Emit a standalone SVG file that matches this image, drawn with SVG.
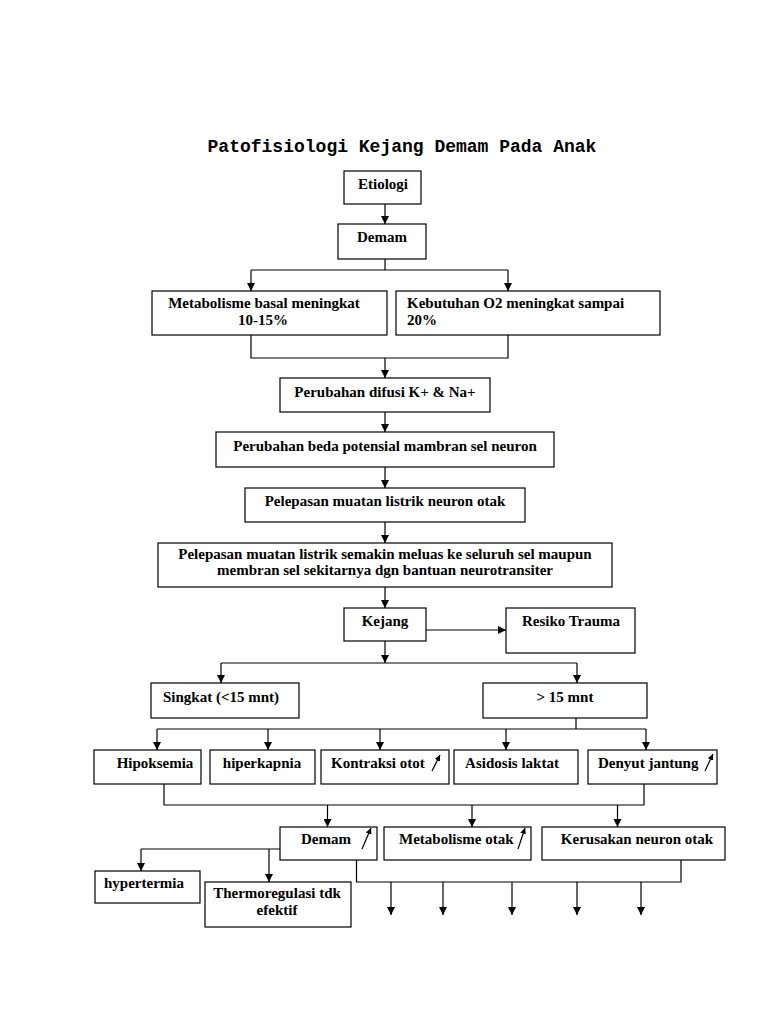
<svg xmlns="http://www.w3.org/2000/svg" width="768" height="1024" viewBox="0 0 768 1024">
<defs>
<marker id="ah" markerWidth="8" markerHeight="8" refX="8" refY="4" orient="auto" markerUnits="userSpaceOnUse"><path d="M0,0 L8,4 L0,8 z" fill="#000"/></marker>
<marker id="sa" markerWidth="6" markerHeight="6" refX="6" refY="3" orient="auto" markerUnits="userSpaceOnUse"><path d="M0,0 L6,3 L0,6 z" fill="#000"/></marker>
<style>
rect{fill:#fff;stroke:#000;stroke-width:1.2}
text{font-family:"Liberation Serif","Times New Roman",serif;font-weight:bold;font-size:15px;fill:#000}
.c{text-anchor:middle}
.t{font-family:"Liberation Mono","Courier New",monospace;font-size:18px}
#conn path{fill:none;stroke:#000;stroke-width:1.2}
.ar{marker-end:url(#ah)}
.up{fill:none;stroke:#000;stroke-width:1.2;marker-end:url(#sa)}
</style>
</defs>
<rect x="0" y="0" width="768" height="1024" style="fill:#fff;stroke:none"/>
<text class="t c" x="402" y="152">Patofisiologi Kejang Demam Pada Anak</text>

<g id="conn">
<path class="ar" d="M385,204 V224"/>
<path d="M385,259 V270 M251,270 H508"/>
<path class="ar" d="M251,270 V291"/>
<path class="ar" d="M508,270 V291"/>
<path d="M251,335 V358 H508 V335"/>
<path class="ar" d="M385,358 V378"/>
<path class="ar" d="M385,412 V432"/>
<path class="ar" d="M385,467 V488"/>
<path class="ar" d="M385,522 V543"/>
<path class="ar" d="M385,587 V608"/>
<path class="ar" d="M426,630 H506"/>
<path class="ar" d="M385,641 V663"/>
<path d="M221,663 H577"/>
<path class="ar" d="M221,663 V683"/>
<path class="ar" d="M577,663 V683"/>
<path d="M576,718 V729 M157,729 H646"/>
<path class="ar" d="M157,729 V750"/>
<path class="ar" d="M268,729 V750"/>
<path class="ar" d="M380,729 V750"/>
<path class="ar" d="M506,729 V750"/>
<path class="ar" d="M646,729 V750"/>
<path d="M164,784 V805 H644 V784"/>
<path class="ar" d="M327.5,805 V827"/>
<path class="ar" d="M472,805 V827"/>
<path class="ar" d="M617.5,805 V827"/>
<path d="M280,849 H141"/>
<path class="ar" d="M141,849 V871"/>
<path class="ar" d="M269,849 V882"/>
<path d="M356.5,860 V882 H681 V860"/>
<path class="ar" d="M391,882 V915"/>
<path class="ar" d="M443,882 V915"/>
<path class="ar" d="M512,882 V915"/>
<path class="ar" d="M577,882 V915"/>
<path class="ar" d="M641,882 V915"/>
</g>

<g id="etiologi"><rect x="344" y="171" width="77" height="33"/><text class="c" x="383" y="189">Etiologi</text></g>
<g id="demam1"><rect x="338" y="224" width="88" height="35"/><text class="c" x="382" y="242">Demam</text></g>
<g id="metabolisme-basal"><rect x="152" y="291" width="235" height="44"/><text class="c" x="264" y="308">Metabolisme basal meningkat</text><text class="c" x="263" y="325">10-15%</text></g>
<g id="kebutuhan-o2"><rect x="396" y="291" width="264" height="44"/><text x="407" y="308">Kebutuhan O2 meningkat sampai</text><text x="407" y="325">20%</text></g>
<g id="difusi"><rect x="280" y="378" width="210" height="34"/><text class="c" x="385" y="397">Perubahan difusi K+ &amp; Na+</text></g>
<g id="beda-potensial"><rect x="216" y="432" width="338" height="35"/><text class="c" x="385" y="451">Perubahan beda potensial mambran sel neuron</text></g>
<g id="pelepasan1"><rect x="245" y="488" width="280" height="34"/><text class="c" x="385" y="506">Pelepasan muatan listrik neuron otak</text></g>
<g id="pelepasan2"><rect x="158" y="543" width="454" height="44"/><text class="c" x="385" y="559">Pelepasan muatan listrik semakin meluas ke seluruh sel maupun</text><text class="c" x="385" y="575">membran sel sekitarnya dgn bantuan neurotransiter</text></g>
<g id="kejang"><rect x="344" y="608" width="82" height="33"/><text class="c" x="385" y="626">Kejang</text></g>
<g id="resiko-trauma"><rect x="506" y="608" width="129" height="45"/><text class="c" x="571" y="626">Resiko Trauma</text></g>
<g id="singkat"><rect x="151" y="683" width="148" height="35"/><text x="163" y="702">Singkat (&lt;15 mnt)</text></g>
<g id="lebih15"><rect x="483" y="683" width="164" height="35"/><text class="c" x="565" y="702">&gt; 15 mnt</text></g>
<g id="hipoksemia"><rect x="94" y="750" width="107" height="34"/><text class="c" x="155" y="768">Hipoksemia</text></g>
<g id="hiperkapnia"><rect x="210" y="750" width="105" height="34"/><text class="c" x="262" y="768">hiperkapnia</text></g>
<g id="kontraksi-otot"><rect x="321" y="750" width="128" height="34"/><text x="331" y="768">Kontraksi otot</text><path class="up" d="M432,771 L440,755"/></g>
<g id="asidosis"><rect x="454" y="750" width="124" height="34"/><text class="c" x="512" y="768">Asidosis laktat</text></g>
<g id="denyut"><rect x="588" y="750" width="129" height="34"/><text x="598" y="768">Denyut jantung</text><path class="up" d="M705,771 L713,754"/></g>
<g id="demam2"><rect x="280" y="827" width="97" height="33"/><text x="301" y="844">Demam</text><path class="up" d="M362,849 L371,828"/></g>
<g id="metabolisme-otak"><rect x="384" y="827" width="147" height="33"/><text x="399" y="844">Metabolisme otak</text><path class="up" d="M518,849 L525,828"/></g>
<g id="kerusakan"><rect x="542" y="827" width="183" height="33"/><text class="c" x="637" y="844">Kerusakan neuron otak</text></g>
<g id="hypertermia"><rect x="95" y="871" width="105" height="32"/><text class="c" x="144" y="888">hypertermia</text></g>
<g id="thermoregulasi"><rect x="205" y="882" width="146" height="45"/><text class="c" x="277" y="898">Thermoregulasi tdk</text><text class="c" x="277" y="915">efektif</text></g>
</svg>
